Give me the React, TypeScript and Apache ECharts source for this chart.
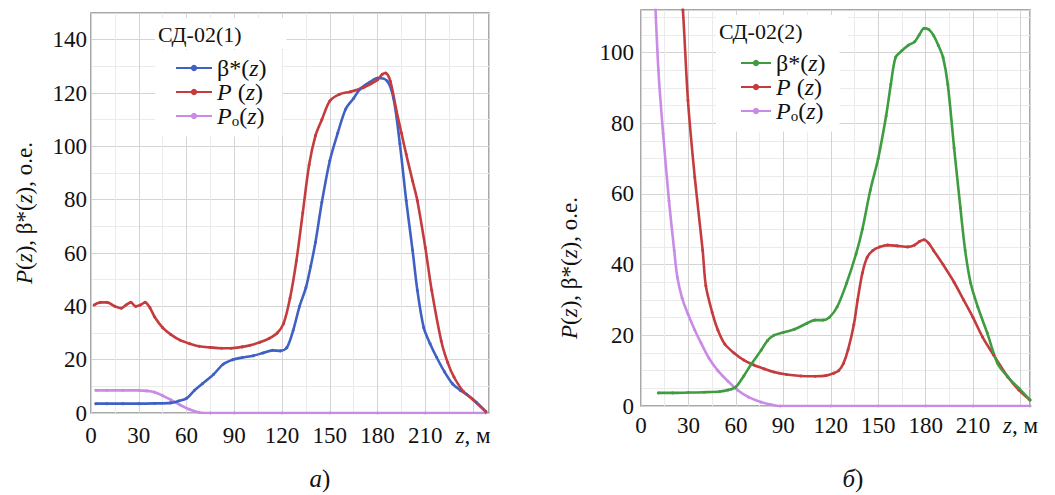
import React, { useEffect, useRef } from "react";
import * as echarts from "echarts";

// ---- Chart а) СД-02(1) ----
const aBetaZ = [3, 10, 20, 30, 40, 50, 55, 60, 65, 70, 77, 83, 89, 95, 102, 108, 114, 119, 123, 127, 131, 135, 138, 141, 145, 150, 155, 160, 165, 169, 175, 180, 186, 190, 194, 198, 202, 205, 209, 213, 217, 222, 227, 232, 236, 242, 248];
const aBetaV = [3.5, 3.5, 3.5, 3.5, 3.6, 3.8, 4.5, 5.5, 8.5, 11, 14.5, 18.3, 20, 20.8, 21.5, 22.5, 23.5, 23.3, 24.5, 31, 40, 47, 55, 64, 79, 94.6, 105, 114, 118, 121.5, 124, 125.6, 124.5, 118, 101, 79.6, 61, 46, 32, 26, 21, 15.5, 11, 8.5, 7, 4, 0.5];

const aPZ = [2, 6, 10, 15, 19, 22, 25, 28, 31, 34, 37, 40, 45, 50, 56, 62, 68, 75, 82, 88, 95, 100, 106, 112, 117, 121, 125, 129, 133, 137, 141, 145, 150, 156, 163, 171, 176, 180, 183, 185, 188, 192, 195, 198, 202, 205, 210, 214, 220, 224, 228, 234, 240, 248];
const aPV = [40.5, 41.5, 41.5, 40, 39.3, 40.5, 41.5, 40, 40.5, 41.5, 39.5, 36, 32, 29.5, 27.3, 26, 25, 24.6, 24.3, 24.3, 24.8, 25.4, 26.5, 28, 30, 33.6, 43, 57, 75, 93, 104, 110, 117, 119.5, 120.5, 122, 123.5, 125, 127, 127.5, 124.5, 113, 105, 97, 87, 79.6, 62, 46, 27, 19, 13.5, 8, 5, 0.5];

const aPoZ = [3, 10, 20, 30, 35, 40, 45, 50, 56, 62, 68, 75, 90, 120, 150, 180, 210, 248];
const aPoV = [8.5, 8.5, 8.5, 8.5, 8.3, 7.8, 6.5, 5, 3, 1.3, 0.2, 0, 0, 0, 0, 0, 0, 0];

// ---- Chart б) СД-02(2) ----
const bBetaZ = [11, 20, 30, 40, 50, 55, 60, 65, 70, 76, 80, 84, 90, 97, 105, 110, 115, 119, 124, 130, 136, 140, 145, 150, 155, 158, 161, 165, 169, 173, 176, 179, 182, 185, 188, 191, 194, 198, 202, 205, 208.5, 213, 219, 225.5, 232, 239, 246];
const bBetaV = [3.7, 3.7, 3.8, 3.9, 4.1, 4.5, 5.4, 8.5, 12, 15.8, 18.5, 20, 20.8, 21.7, 23.4, 24.3, 24.3, 25, 28, 34.7, 43, 50, 61, 70, 82, 91, 98.6, 100.5, 102, 103, 105, 106.8, 106.5, 104.8, 102, 98.6, 91, 73, 56, 44, 34.7, 28, 20.6, 12, 8.2, 5, 1.7];

const bPZ = [24, 26.5, 29.7, 34, 39, 41, 45, 48.6, 53, 58.8, 65, 71.4, 78, 84, 92, 101, 110, 117, 122, 125, 128, 131, 134.6, 137, 140, 143, 146.6, 151, 156, 162, 168.6, 173, 176, 179, 182, 185, 191, 198, 204, 210, 216, 223, 232, 239, 246];
const bPV = [125, 112, 86.4, 64.7, 44, 34, 26.5, 21.5, 17.5, 15, 13, 11.6, 10.5, 9.6, 8.9, 8.5, 8.4, 8.6, 9.3, 10, 12, 16, 23, 30, 37.6, 42, 44, 45, 45.5, 45.3, 45, 45.5, 46.5, 47, 46, 44, 40, 35, 30, 25, 19.5, 14.4, 8.2, 4.5, 1.7];

const bPoZ = [8, 11, 14, 17.7, 21, 23, 26, 29.7, 34, 38, 43, 48.6, 55, 61, 68, 76, 82, 88, 120, 150, 180, 210, 246];
const bPoV = [125, 95, 77, 58, 44, 36.4, 30.5, 26, 21.5, 17.8, 13.5, 10, 7, 4.5, 2.5, 1.1, 0.4, 0, 0, 0, 0, 0, 0];

const xTickStep = 30;
const aYMax = 150;
const bYMax = 112;
const yTickStep = 20;

const FONT = "serif";
const TXT = "#111";
const BLUE = "#4061c4";
const RED = "#c43c3e";
const PURPLE = "#c98be6";
const GREEN = "#3f9c40";

function pairs(z: number[], v: number[]) {
  return z.map((x, i) => [x, v[i]]);
}

const legendNames: Record<string, string> = {
  "a-beta": "{n|β*(}{i|z}{n|)}",
  "a-P": "{i|P}{n| (}{i|z}{n|)}",
  "a-Po": "{i|P}{s|o}{n|(}{i|z}{n|)}",
  "b-beta": "{n|β*(}{i|z}{n|)}",
  "b-P": "{i|P}{n| (}{i|z}{n|)}",
  "b-Po": "{i|P}{s|o}{n|(}{i|z}{n|)}",
};

function makeLegendRich() {
  return {
    n: { fontFamily: FONT, fontSize: 24, color: TXT },
    i: { fontFamily: FONT, fontSize: 24, fontStyle: "italic", color: TXT },
    s: { fontFamily: FONT, fontSize: 15, color: TXT, padding: [10, 0, 0, 0] },
  };
}

const FONT_CSS = `svg text, svg tspan { font-family: serif !important; }`;

export default function App() {
  const ref = useRef<HTMLDivElement>(null);
  useEffect(() => {
    document.body.style.margin = "0";
    const chart = echarts.init(ref.current!, null, { renderer: "svg" });

    const xAxisCfg = (gi: number, max: number) => ({
      gridIndex: gi,
      type: "value",
      min: 0,
      max,
      interval: xTickStep,
      axisLine: { show: false },
      axisTick: { show: false },
      axisLabel: {
        fontFamily: FONT,
        fontSize: 23,
        color: TXT,
        margin: gi === 0 ? 11 : 8,
        formatter: (v: number) =>
          v === 240 ? "{i|z}{n|, м}" : v % xTickStep === 0 ? "{n|" + v + "}" : "",
        rich: {
          n: { fontFamily: FONT, fontSize: 23, color: TXT },
          i: { fontFamily: FONT, fontSize: 23, color: TXT, fontStyle: "italic" },
        },
      },
      splitLine: { show: true, lineStyle: { color: "#d4d4d4", width: 1 } },
      minorTick: { show: false, splitNumber: 2 },
      minorSplitLine: { show: true, lineStyle: { color: "#ebebeb", width: 1 } },
    });

    const yAxisCfg = (gi: number, max: number) => ({
      gridIndex: gi,
      type: "value",
      min: 0,
      max,
      interval: yTickStep,
      axisLine: { show: false },
      axisTick: { show: false },
      axisLabel: {
        fontFamily: FONT,
        fontSize: 23,
        color: TXT,
        margin: gi === 0 ? 4 : 7,
        formatter: (v: number) => (v % yTickStep === 0 ? String(v) : ""),
      },
      splitLine: { show: true, lineStyle: { color: "#d4d4d4", width: 1 } },
      minorTick: { show: false, splitNumber: gi === 0 ? 2 : 4 },
      minorSplitLine: { show: true, lineStyle: { color: "#ebebeb", width: 1 } },
    });

    const lineSeries = (name: string, gi: number, z: number[], v: number[], color: string) => ({
      name,
      type: "line",
      xAxisIndex: gi,
      yAxisIndex: gi,
      data: pairs(z, v),
      smooth: 0.3,
      symbol: "circle",
      symbolSize: 3,
      showSymbol: true,
      clip: true,
      lineStyle: { color, width: 2.6 },
      itemStyle: { color },
    });

    const yTitle = "{i|P}({i|z}), β*({i|z}), о.е.";
    const yTitleRich = () => ({
      i: { fontFamily: FONT, fontSize: 23, fontStyle: "italic", fill: TXT },
    });

    chart.setOption({
      animation: false,
      backgroundColor: "#fff",
      textStyle: { fontFamily: FONT },
      title: [
        {
          text: "СД-02(1)",
          left: 155,
          top: 18,
          padding: [5, 45, 4, 3],
          backgroundColor: "#fff",
          textStyle: { fontFamily: FONT, fontSize: 22, fontWeight: "normal", color: TXT },
        },
        {
          text: "СД-02(2)",
          left: 716,
          top: 15,
          padding: [5, 45, 4, 3],
          backgroundColor: "#fff",
          textStyle: { fontFamily: FONT, fontSize: 22, fontWeight: "normal", color: TXT },
        },
      ],
      legend: [
        {
          orient: "vertical",
          left: 155,
          top: 50,
          padding: [6, 16, 8, 20],
          itemGap: 0,
          itemWidth: 36,
          itemHeight: 8,
          backgroundColor: "#fff",
          selectedMode: false,
          data: ["a-beta", "a-P", "a-Po"],
          formatter: (n: string) => legendNames[n],
          textStyle: { fontFamily: FONT, fontSize: 24, color: TXT, lineHeight: 23, rich: makeLegendRich() },
        },
        {
          orient: "vertical",
          left: 716,
          top: 45,
          padding: [6, 14, 8, 24],
          itemGap: 0,
          itemWidth: 30,
          itemHeight: 8,
          backgroundColor: "#fff",
          selectedMode: false,
          data: ["b-beta", "b-P", "b-Po"],
          formatter: (n: string) => legendNames[n],
          textStyle: { fontFamily: FONT, fontSize: 24, color: TXT, lineHeight: 22, rich: makeLegendRich() },
        },
      ],
      grid: [
        { left: 91, top: 13, width: 398, height: 400, show: true, borderColor: "#8c8c8c", borderWidth: 1.5, backgroundColor: "#fff" },
        { left: 641, top: 10, width: 389, height: 396, show: true, borderColor: "#8c8c8c", borderWidth: 1.5, backgroundColor: "#fff" },
      ],
      xAxis: [xAxisCfg(0, 250), xAxisCfg(1, 246)],
      yAxis: [yAxisCfg(0, aYMax), yAxisCfg(1, bYMax)],
      series: [
        lineSeries("a-Po", 0, aPoZ, aPoV, PURPLE),
        lineSeries("a-beta", 0, aBetaZ, aBetaV, BLUE),
        lineSeries("a-P", 0, aPZ, aPV, RED),
        lineSeries("b-Po", 1, bPoZ, bPoV, PURPLE),
        lineSeries("b-P", 1, bPZ, bPV, RED),
        lineSeries("b-beta", 1, bBetaZ, bBetaV, GREEN),
      ],
      graphic: [
        {
          type: "text",
          x: 24,
          y: 213,
          rotation: Math.PI / 2,
          style: {
            text: yTitle,
            fontFamily: FONT,
            fontSize: 23,
            fill: TXT,
            align: "center",
            verticalAlign: "middle",
            rich: yTitleRich(),
          },
        },
        {
          type: "text",
          x: 569,
          y: 268,
          rotation: Math.PI / 2,
          style: {
            text: yTitle,
            fontFamily: FONT,
            fontSize: 23,
            fill: TXT,
            align: "center",
            verticalAlign: "middle",
            rich: yTitleRich(),
          },
        },
        {
          type: "text",
          x: 320,
          y: 478,
          style: {
            text: "{i|а})",
            fontFamily: FONT,
            fontSize: 25,
            fill: TXT,
            align: "center",
            verticalAlign: "middle",
            rich: { i: { fontFamily: FONT, fontSize: 25, fontStyle: "italic", fill: TXT } },
          },
        },
        {
          type: "text",
          x: 853,
          y: 478,
          style: {
            text: "{i|б})",
            fontFamily: FONT,
            fontSize: 25,
            fill: TXT,
            align: "center",
            verticalAlign: "middle",
            rich: { i: { fontFamily: FONT, fontSize: 25, fontStyle: "italic", fill: TXT } },
          },
        },
      ],
    });

    return () => chart.dispose();
  }, []);

  return (
    <>
      <style>{FONT_CSS}</style>
      <div ref={ref} style={{ width: 1055, height: 495 }} />
    </>
  );
}
